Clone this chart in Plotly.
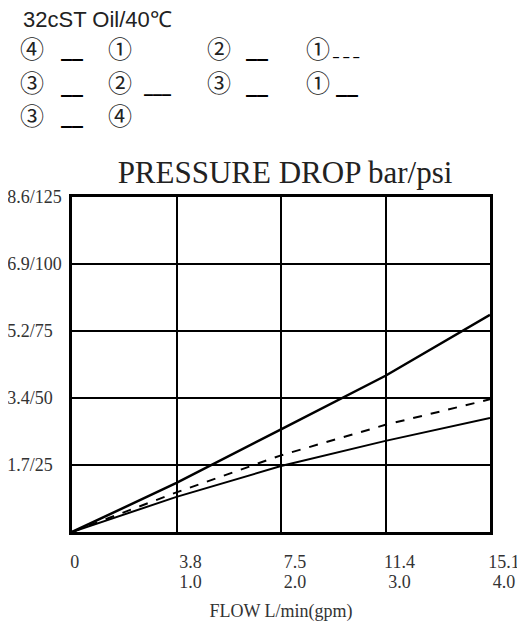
import plotly.graph_objects as go

# ---- data ----
flow_gpm = [0, 1, 2, 3, 4]
x_tick_vals = [0, 1, 2, 3, 4]
x_tick_lpm = ["0\u00a0\u00a0\u00a0\u00a0\u00a0", "3.8", "7.5", "11.4", "15.1"]
x_tick_gpm = ["", "1.0", "2.0", "3.0", "4.0"]
y_tick_vals = [25, 50, 75, 100, 125]
y_tick_text = ["1.7/25\u00a0\u00a0", "3.4/50\u00a0\u00a0", "5.2/75\u00a0\u00a0", "6.9/100", "8.6/125"]

steep_psi = [0, 18.3, 38.3, 58.3, 81.0]
dashed_psi = [0, 14.8, 28.6, 40.0, 49.5]
lower_psi = [0, 13.1, 24.6, 34.0, 42.5]

OFF = 8  # page body margin
W, H = 525 - OFF, 622 - OFF
L, R, T, B = 72, 490, 197, 532  # plot box in screenshot pixels

def px(x):
    return (x - L) / (R - L)

def py(y):
    return (B - y) / (B - T)

fig = go.Figure()
fig.add_trace(go.Scatter(x=flow_gpm, y=steep_psi, mode="lines",
                         line=dict(color="black", width=2.5), showlegend=False))
fig.add_trace(go.Scatter(x=flow_gpm, y=dashed_psi, mode="lines",
                         line=dict(color="black", width=2, dash="dash"), showlegend=False))
fig.add_trace(go.Scatter(x=flow_gpm, y=lower_psi, mode="lines", xaxis="x2",
                         line=dict(color="black", width=2), showlegend=False))

serif = "Liberation Serif"
sans = "Liberation Sans"
cjk = "Noto Sans CJK SC"

ann = []
ann.append(dict(text="32cST Oil/40\u2103", x=px(21), y=py(19), xanchor="left", yanchor="middle",
                font=dict(family=sans, size=22, color="#222")))

circ = [
    ("\u2463", 32, 47.5), ("\u2460", 120, 47.5), ("\u2461", 219, 47.5), ("\u2460", 318, 47.5),
    ("\u2462", 32, 82), ("\u2461", 120, 82), ("\u2462", 219, 82), ("\u2460", 318, 82),
    ("\u2462", 32, 114.5), ("\u2463", 120, 114.5),
]
for t, cx, cy in circ:
    ann.append(dict(text=t, x=px(cx), y=py(cy), xanchor="center", yanchor="middle",
                    font=dict(family=cjk, size=24, color="#222")))

unders = [
    ("<b>__</b>", 71.5, 58, 22), ("<b>__</b>", 257, 58, 22), ("<b>_ _ _</b>", 346, 58, 12),
    ("<b>__</b>", 71.5, 93, 22), ("<b>___</b>", 157.5, 93, 18), ("<b>__</b>", 257, 93, 22), ("<b>__</b>", 347, 93, 22),
    ("<b>__</b>", 71.5, 125, 22),
]
for t, cx, ly, fs in unders:
    ann.append(dict(text=t, x=px(cx), y=py(ly + 0.25 * fs), xanchor="center", yanchor="bottom",
                    font=dict(family="DejaVu Sans", size=fs, color="black")))

axis_common = dict(range=[0, 4], tickvals=x_tick_vals, automargin=False, zeroline=False,
                   ticks="", ticklabelshift=14,
                   tickfont=dict(family=serif, size=18, color="#333"))

fig.update_layout(
    width=W, height=H,
    margin=dict(l=L - OFF, r=525 - R, t=T - OFF, b=622 - B, autoexpand=False),
    paper_bgcolor="white", plot_bgcolor="white",
    title=dict(text="PRESSURE DROP bar/psi", x=(285 - OFF) / W, xanchor="center",
               y=1 - (172 - OFF) / H, yanchor="middle", xref="container", yref="container",
               font=dict(family=serif, size=31, color="#222")),
    xaxis=dict(axis_common, ticktext=x_tick_lpm, ticklabelstandoff=12,
               showgrid=True, gridcolor="black", gridwidth=2,
               showline=True, linecolor="black", linewidth=2.5, mirror=True),
    xaxis2=dict(axis_common, ticktext=x_tick_gpm, ticklabelstandoff=37,
                overlaying="x", side="bottom", showgrid=False, showline=False,
                title=dict(text="FLOW L/min(gpm)", font=dict(family=serif, size=18, color="#333"),
                           standoff=14)),
    yaxis=dict(range=[0, 125], tickvals=y_tick_vals, ticktext=y_tick_text,
               showgrid=True, gridcolor="black", gridwidth=2, automargin=False,
               showline=True, linecolor="black", linewidth=2.5, mirror=True,
               ticks="", zeroline=False, ticklabelstandoff=4,
               tickfont=dict(family=serif, size=18, color="#333")),
    annotations=[dict(a, xref="paper", yref="paper", showarrow=False) for a in ann],
)

fig.write_html("out.html")
